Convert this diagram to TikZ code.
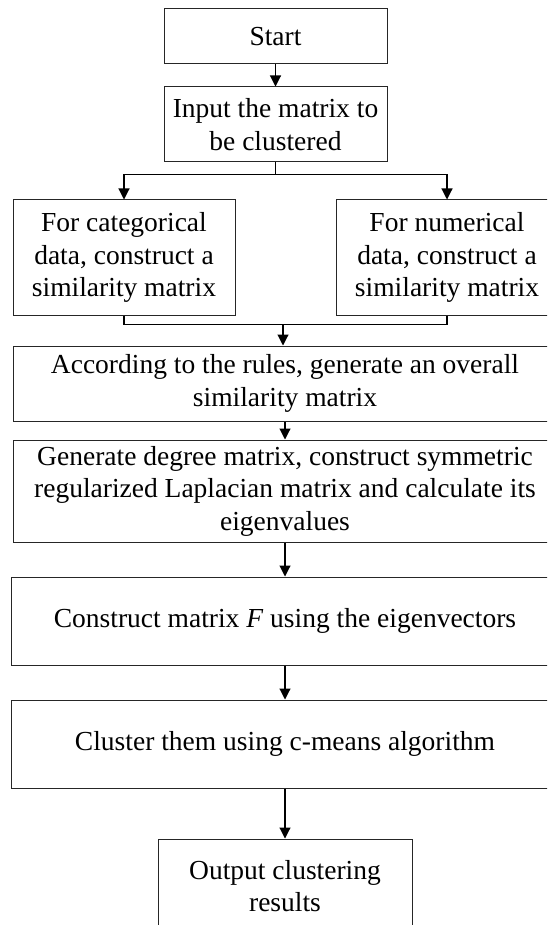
\documentclass[tikz,border=0pt]{standalone}
\usepackage{fontspec}
\setmainfont{Liberation Serif}
\usetikzlibrary{arrows.meta}
\begin{document}
\begin{tikzpicture}[x=1pt,y=-1pt,
  box/.style={draw=black!85, line width=1pt, rectangle, align=center, inner sep=0pt,
    font=\fontsize{27.5}{32.5}\selectfont},
  conn/.style={line width=1.1pt, draw=black},
  arr/.style={conn, -{Triangle[length=11pt,width=11pt]}}]
\clip (0,0) rectangle (547,925);
\fill[white] (0,0) rectangle (547,925);
\node[box, minimum width=223pt, minimum height=55pt] (start) at (275.5,36.5) {Start};
\node[box, minimum width=223pt, minimum height=75pt] (input) at (275.5,124.5) {Input the matrix to\\be clustered};
\node[box, minimum width=222pt, minimum height=115pt] (cat) at (124,257.5) {For categorical\\data, construct a\\similarity matrix};
\node[box, minimum width=222pt, minimum height=115pt] (num) at (447,257.5) {For numerical\\data, construct a\\similarity matrix};
\node[box, minimum width=544pt, minimum height=75pt] (acc) at (285,383.5) {According to the rules, generate an overall\\similarity matrix};
\node[box, minimum width=544pt, minimum height=102pt] (gen) at (285,491) {Generate degree matrix, construct symmetric\\regularized Laplacian matrix and calculate its\\eigenvalues};
\node[box, minimum width=547pt, minimum height=88pt] (cons) at (285,621) {Construct matrix \textit{F} using the eigenvectors};
\node[box, minimum width=547pt, minimum height=88pt] (clus) at (285,744) {Cluster them using c-means algorithm};
\node[box, minimum width=254pt, minimum height=94pt] (out) at (285,886) {Output clustering\\results};
% connectors
\draw[arr] (start.south) -- (input.north);
\draw[arr] (input.south) -- ++(0,11.7) -| (cat.north);
\draw[arr] (input.south) -- ++(0,11.7) -| (num.north);
\draw[conn] (cat.south) -- ++(0,9.3) -| (num.south);
\coordinate (m) at (283,324.3);
\draw[arr] (m) -- (m |- acc.north);
\draw[arr] (acc.south) -- (gen.north);
\draw[arr] (gen.south) -- (cons.north);
\draw[arr] (cons.south) -- (clus.north);
\draw[arr] (clus.south) -- (out.north);
\end{tikzpicture}
\end{document}
